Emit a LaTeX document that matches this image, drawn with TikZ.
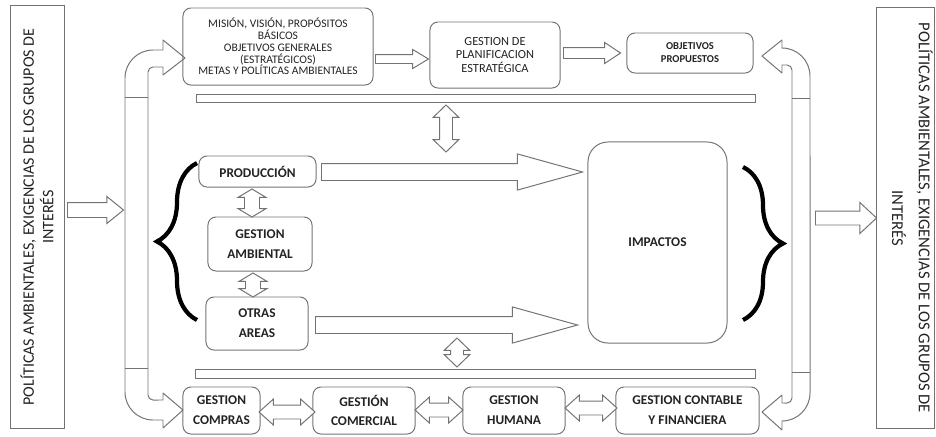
\documentclass[tikz,border=0pt]{standalone}
\usepackage{fontspec}
\setmainfont{Carlito}
\usetikzlibrary{shapes.arrows,decorations.pathreplacing}

\definecolor{linegray}{RGB}{115,115,115}
\definecolor{textgray}{RGB}{35,35,35}

\tikzset{
	box/.style={shape=rectangle, draw=linegray, line width=0.7pt, rounded corners=0.2cm, align=center, text=textgray, inner sep=1pt},
	boldbox/.style={box, font=\bfseries\fontsize{9.5}{14}\selectfont},
	sidebox/.style={shape=rectangle, draw=linegray, line width=0.7pt, align=center, text=textgray, inner sep=1pt},
	bar/.style={shape=rectangle, draw=linegray, line width=0.7pt, inner sep=0pt},
	fatarrow/.style={shape=single arrow, draw=linegray, line width=0.7pt, fill=white, anchor=tail},
	twoway/.style={shape=double arrow, draw=linegray, line width=0.7pt, fill=white},
	pipe/.style={draw=linegray, line width=0.7pt, line join=round},
	bracket/.style={draw=black, line width=3pt, decorate, decoration={brace, amplitude=1cm}},
}

\begin{document}
\begin{tikzpicture}[x=0.025cm, y=-0.025cm]
	\useasboundingbox (0,0) rectangle (936,436);
	% Side boxes:
	\node[sidebox, rotate=90, minimum width=10.55cm, minimum height=1.35cm, font=\fontsize{11.4}{14}\selectfont] (leftside) at (37,217) {POLÍTICAS AMBIENTALES, EXIGENCIAS DE LOS GRUPOS DE\\INTERÉS};
	\node[sidebox, rotate=-90, minimum width=10.5cm, minimum height=1.275cm, font=\fontsize{11.8}{19}\selectfont] (rightside) at (905.5,218) {POLÍTICAS AMBIENTALES, EXIGENCIAS DE LOS GRUPOS DE\\INTERÉS\rule[-0.35cm]{0pt}{0.35cm}};
	% Top row:
	\node[box, minimum width=4.75cm, minimum height=1.925cm, font=\fontsize{8.2}{8.4}\selectfont] (mision) at (278,46.5) {MISIÓN, VISIÓN, PROPÓSITOS\\BÁSICOS\\OBJETIVOS GENERALES\\(ESTRATÉGICOS)\\METAS Y POLÍTICAS AMBIENTALES};
	\node[box, minimum width=3.25cm, minimum height=1.65cm, font=\fontsize{8.8}{9.8}\selectfont] (planif) at (495,55) {GESTION DE\\PLANIFICACION\\ESTRATÉGICA};
	\node[box, minimum width=3.15cm, minimum height=1cm, font=\bfseries\fontsize{7.5}{9.2}\selectfont] (objetivos) at (690,53) {OBJETIVOS\\PROPUESTOS};
	\node[bar, minimum width=13.95cm, minimum height=0.2cm] (topbar) at (476,98) {};
	% Middle:
	\node[boldbox, minimum width=2.925cm, minimum height=0.775cm] (produccion) at (257.5,171.5) {PRODUCCIÓN};
	\node[boldbox, minimum width=2.6cm, minimum height=1.35cm] (ambiental) at (260,244) {GESTION\\AMBIENTAL};
	\node[boldbox, minimum width=2.55cm, minimum height=1.325cm] (otras) at (257,323.5) {OTRAS\\AREAS};
	\node[boldbox, rounded corners=0.5cm, minimum width=3.475cm, minimum height=5.025cm] (impactos) at (657.5,242.5) {IMPACTOS};
	\node[bar, minimum width=13.975cm, minimum height=0.225cm] (botbar) at (475.5,373.5) {};
	% Bottom row:
	\node[boldbox, minimum width=1.925cm, minimum height=1.175cm] (compras) at (221.5,410.5) {GESTION\\COMPRAS};
	\node[boldbox, minimum width=2.55cm, minimum height=1.175cm] (comercial) at (364,410.5) {GESTIÓN\\COMERCIAL};
	\node[boldbox, minimum width=2.55cm, minimum height=1.175cm] (humana) at (514,410.5) {GESTION\\HUMANA};
	\node[boldbox, minimum width=3.575cm, minimum height=1.175cm] (contable) at (687.5,410.5) {GESTION CONTABLE\\Y FINANCIERA};
	% Block arrows (placed by their tails):
	\node[fatarrow, inner sep=0.175cm, minimum height=1.4cm, minimum width=0.65cm, single arrow head extend=0.15cm, single arrow tip angle=78] (inarrow) at (67,210) {};
	\node[fatarrow, inner sep=0.1625cm, minimum height=1.525cm, minimum width=0.75cm, single arrow head extend=0.2125cm, single arrow tip angle=86] (outarrow) at (815,218) {};
	\node[fatarrow, inner sep=0.1cm, minimum height=1.325cm, minimum width=0.45cm, single arrow head extend=0.125cm, single arrow tip angle=62] (arrowa) at (375,59) {};
	\node[fatarrow, inner sep=0.125cm, minimum height=1.425cm, minimum width=0.5cm, single arrow head extend=0.125cm, single arrow tip angle=67] (arrowb) at (563,53) {};
	\node[fatarrow, inner sep=0.2cm, minimum height=6.525cm, minimum width=0.875cm, single arrow head extend=0.24cm, single arrow tip angle=31] (bigarrowa) at (321,172) {};
	\node[fatarrow, inner sep=0.2cm, minimum height=6.55cm, minimum width=0.875cm, single arrow head extend=0.24cm, single arrow tip angle=31] (bigarrowb) at (315,325) {};
	% Double arrows:
	\node[twoway, inner sep=0.15cm, shape border rotate=90, minimum height=1.175cm, minimum width=0.625cm, double arrow head extend=0.16cm, double arrow tip angle=92] (linka) at (446,128.5) {};
	\node[twoway, inner sep=0.15cm, shape border rotate=90, minimum height=0.725cm, minimum width=0.625cm, double arrow head extend=0.16cm, double arrow tip angle=92] (linkb) at (457,352.5) {};
	\node[twoway, inner sep=0.175cm, shape border rotate=90, minimum height=0.7cm, minimum width=0.675cm, double arrow head extend=0.16cm, double arrow tip angle=118] (linkc) at (252,203) {};
	\node[twoway, inner sep=0.175cm, shape border rotate=90, minimum height=0.6cm, minimum width=0.675cm, double arrow head extend=0.16cm, double arrow tip angle=118] (linkd) at (253,285) {};
	\node[twoway, inner sep=0.1625cm, minimum height=1.4cm, minimum width=0.625cm, double arrow head extend=0.15cm, double arrow tip angle=84] (linke) at (287,412) {};
	\node[twoway, inner sep=0.1625cm, minimum height=1.2cm, minimum width=0.625cm, double arrow head extend=0.15cm, double arrow tip angle=84] (linkf) at (439,410) {};
	\node[twoway, inner sep=0.1625cm, minimum height=1.3cm, minimum width=0.625cm, double arrow head extend=0.15cm, double arrow tip angle=84] (linkg) at (591,408) {};
	% Braces:
	\draw[bracket] (197,320) -- (197,163);
	\draw[bracket] (743,167) -- (743,320);
	% Curved pipes:
	\draw[pipe] (163,40) -- (185,58) -- (163,75) -- (163,67) -- (153,67) arc[start angle=90, end angle=180, radius=0.125cm] -- (148,395) arc[start angle=180, end angle=270, radius=0.125cm] -- (163,400) -- (163,393) -- (183,410) -- (163,428) -- (163,420) -- (153,420) arc[start angle=270, end angle=180, radius=0.7cm] -- (125,78) arc[start angle=180, end angle=90, radius=0.7cm] -- (163,50) -- cycle;
	\draw[pipe] (125,97) -- (148,97) (125,368) -- (148,368);
	\draw[pipe] (782,40) -- (762,56) -- (782,73) -- (782,65) -- (787,65) arc[start angle=90, end angle=0, radius=0.125cm] -- (792,398) arc[start angle=0, end angle=-90, radius=0.125cm] -- (782,403) -- (782,395) -- (762,412) -- (782,430) -- (782,421) arc[start angle=270, end angle=360, radius=0.7cm] -- (810,76) arc[start angle=0, end angle=90, radius=0.7cm] -- cycle;
	\draw[pipe] (792,98) -- (810,98) (792,372) -- (810,372);
\end{tikzpicture}
\end{document}
